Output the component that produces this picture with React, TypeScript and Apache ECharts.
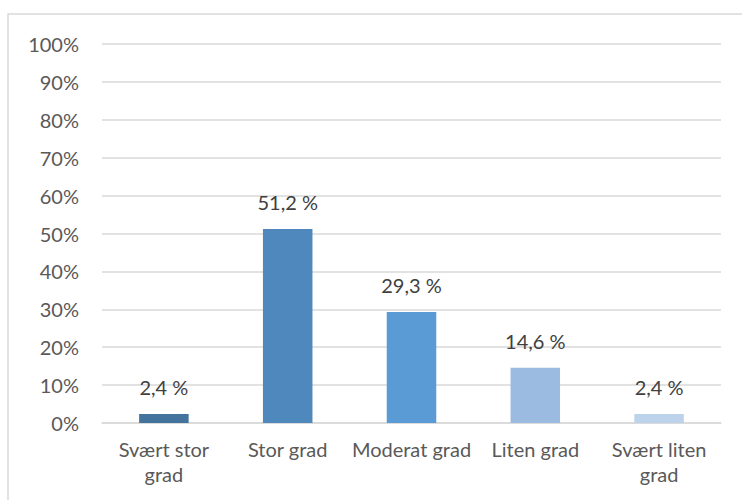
import React, { useEffect, useRef } from "react";
import * as echarts from "echarts";

const categories = ["Svært stor\ngrad", "Stor grad", "Moderat grad", "Liten grad", "Svært liten\ngrad"];
const values = [2.4, 51.2, 29.3, 14.6, 2.4];
const barColors = ["#44739e", "#4f88bd", "#5b9bd5", "#9bbbe1", "#bdd3ec"];
const yTicks = [0, 10, 20, 30, 40, 50, 60, 70, 80, 90, 100];

const FONT = "Lato, 'Open Sans', sans-serif";

export default function App() {
  const ref = useRef<HTMLDivElement>(null);

  useEffect(() => {
    if (!ref.current) return;
    const chart = echarts.init(ref.current, undefined, { renderer: "svg" });
    chart.setOption({
      animation: false,
      backgroundColor: "#ffffff",
      grid: { left: 102, right: 21, top: 44, bottom: 77 },
      graphic: [
        {
          type: "rect",
          shape: { x: 8, y: 14, width: 800, height: 600 },
          style: { fill: "none", stroke: "#d9d9d9", lineWidth: 1.5 },
          silent: true,
        },
      ],
      xAxis: {
        type: "category",
        data: categories,
        axisLine: { show: true, lineStyle: { color: "#d9d9d9", width: 1.5 } },
        axisTick: { show: false },
        axisLabel: {
          color: "#595959",
          fontSize: 20,
          fontFamily: FONT,
          lineHeight: 25,
          margin: 13,
          interval: 0,
        },
      },
      yAxis: {
        type: "value",
        min: 0,
        max: 100,
        interval: 10,
        axisLine: { show: false },
        axisTick: { show: false },
        splitLine: { lineStyle: { color: "#d9d9d9", width: 1.5 } },
        axisLabel: {
          color: "#595959",
          fontSize: 20,
          fontFamily: FONT,
          margin: 23,
          formatter: (v: number) => (yTicks.includes(v) ? `${v}%` : ""),
        },
      },
      series: [
        {
          type: "bar",
          barWidth: "40%",
          data: values.map((v, i) => ({ value: v, itemStyle: { color: barColors[i] } })),
          label: {
            show: true,
            position: "top",
            distance: 17,
            color: "#404040",
            fontSize: 20,
            fontFamily: FONT,
            formatter: (p: any) => `${String(p.value.toFixed(1)).replace(".", ",")} %`,
          },
        },
      ],
    });
    return () => chart.dispose();
  }, []);

  return (
    <div
      ref={ref}
      style={{ position: "fixed", left: 0, top: 0, width: 742, height: 500, background: "#fff" }}
    />
  );
}
